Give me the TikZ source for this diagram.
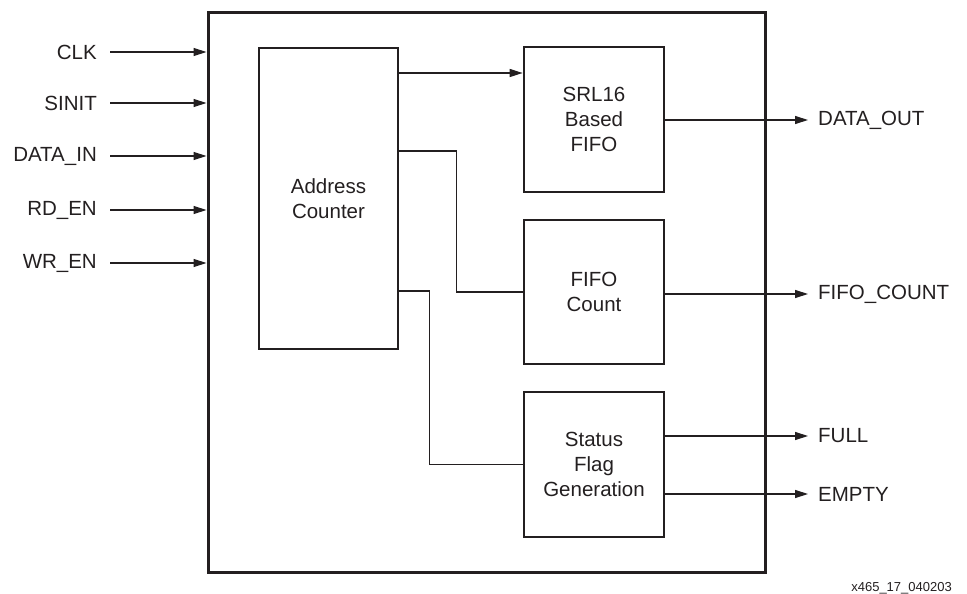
\documentclass[tikz,border=0pt]{standalone}
\usepackage{fontspec}
\setmainfont{Liberation Sans}
\usetikzlibrary{arrows.meta}
\definecolor{ink}{HTML}{231F20}
\begin{document}
\begin{tikzpicture}[x=1pt,y=-1pt,
  every node/.style={text=ink},
  lbl/.style={font=\fontsize{20.5}{25}\selectfont, inner sep=0pt},
  blk/.style={draw=ink, line width=2.7pt, align=center, font=\fontsize{20.5}{25}\selectfont, inner sep=0pt},
  wire/.style={draw=ink, line width=1.3pt},
  arr/.style={wire, -{Triangle[length=13pt,width=8pt]}}
]
\useasboundingbox (0,0) rectangle (967,594);
% outer box
\node[blk, line width=3pt, minimum width=557pt, minimum height=559pt] (outer) at (486.5,292.5) {};
% inner blocks
\node[blk, minimum width=139pt, minimum height=301pt] (AC) at (328.5,198.5) {Address\\Counter};
\node[blk, minimum width=140pt, minimum height=145pt] (SRL) at (594,119.5) {SRL16\\Based\\FIFO};
\node[blk, minimum width=140pt, minimum height=144pt] (FC) at (594,292) {FIFO\\Count};
\node[blk, minimum width=140pt, minimum height=145pt] (SF) at (594,464.5) {Status\\Flag\\Generation};
% inputs
\node[lbl, anchor=east] (clk) at (97,52) {CLK};
\node[lbl, anchor=east] (sinit) at (97,103) {SINIT};
\node[lbl, anchor=east] (din) at (97,156) {DATA\_IN};
\node[lbl, anchor=east] (rden) at (97,210) {RD\_EN};
\node[lbl, anchor=east] (wren) at (97,263) {WR\_EN};
\foreach \n in {clk,sinit,din,rden,wren}
  \draw[arr] ([xshift=13pt]\n.east) -- (outer.west |- \n.east);
% outputs
\node[lbl, anchor=west] (dout) at (818,120) {DATA\_OUT};
\node[lbl, anchor=west] (fcount) at (818,294) {FIFO\_COUNT};
\node[lbl, anchor=west] (full) at (818,436) {FULL};
\node[lbl, anchor=west] (empty) at (818,494) {EMPTY};
\draw[arr] (SRL.east |- dout.west) -- ([xshift=-10pt]dout.west);
\draw[arr] (FC.east |- fcount.west) -- ([xshift=-10pt]fcount.west);
\draw[arr] (SF.east |- full.west) -- ([xshift=-10pt]full.west);
\draw[arr] (SF.east |- empty.west) -- ([xshift=-10pt]empty.west);
% internal connections
\draw[arr] (AC.east |- 0,73) -- (SRL.west |- 0,73);
\draw[wire] (AC.east |- 0,151) -- ++(57,0) |- (FC.west);
\draw[wire] (AC.east |- 0,291) -- ++(30,0) |- (SF.west);
% figure id
\node[inner sep=0pt, anchor=east, font=\fontsize{13}{15}\selectfont] (fid) at (952,588) {x465\_17\_040203};
\end{tikzpicture}
\end{document}
